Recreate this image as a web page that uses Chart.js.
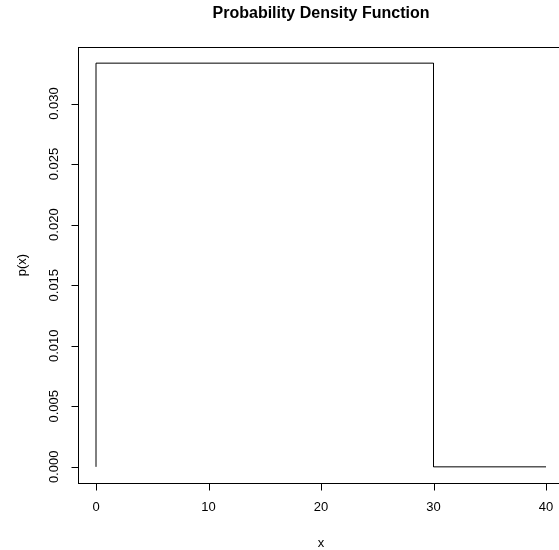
<!DOCTYPE html>
<html>
<head>
<meta charset="utf-8">
<script src="https://cdn.jsdelivr.net/npm/chart.js@4/dist/chart.umd.min.js"></script>
<style>
  html, body { margin: 0; padding: 0; background: #fff; overflow: hidden; }
  #wrap { width: 559px; height: 550px; overflow: hidden; }
  #wrap div { width: 570px; height: 550px; }
</style>
</head>
<body>
<div id="wrap"><div><canvas id="pdf"></canvas></div></div>
<script>
// step outline of the uniform density on [0, 30]
const xs = [0, 0, 30, 30, 40];
const ps = [0, 1 / 30, 1 / 30, 0, 0];
const xTicks = [0, 10, 20, 30, 40];
const yTicks = [0, 0.005, 0.010, 0.015, 0.020, 0.025, 0.030];
const yTickLabels = ['0.000', '0.005', '0.010', '0.015', '0.020', '0.025', '0.030'];

const font = '"Liberation Sans", Arial, Helvetica, sans-serif';

// R style frame, axes and labels
const rAxes = {
    id: 'rAxes',
    afterDraw(chart) {
        const { ctx, chartArea: a, scales: { x, y } } = chart;
        ctx.save();
        ctx.strokeStyle = '#000';
        ctx.fillStyle = '#000';
        ctx.lineWidth = 1;

        ctx.strokeRect(Math.round(a.left) + 0.5, Math.round(a.top) + 0.5,
            Math.round(a.right - a.left), Math.round(a.bottom - a.top));

        // x axis
        const xb = Math.round(a.bottom) + 0.5;
        ctx.beginPath();
        ctx.moveTo(x.getPixelForValue(xTicks[0]), xb);
        ctx.lineTo(x.getPixelForValue(xTicks[xTicks.length - 1]), xb);
        xTicks.forEach(v => {
            const px = Math.round(x.getPixelForValue(v)) + 0.5;
            ctx.moveTo(px, xb);
            ctx.lineTo(px, xb + 7);
        });
        ctx.stroke();
        ctx.font = '13px ' + font;
        ctx.textAlign = 'center';
        ctx.textBaseline = 'middle';
        xTicks.forEach(v => ctx.fillText(String(v), x.getPixelForValue(v), a.bottom + 24));

        // y axis
        const yl = Math.round(a.left) + 0.5;
        ctx.beginPath();
        ctx.moveTo(yl, y.getPixelForValue(yTicks[0]));
        ctx.lineTo(yl, y.getPixelForValue(yTicks[yTicks.length - 1]));
        yTicks.forEach(v => {
            const py = Math.round(y.getPixelForValue(v)) + 0.5;
            ctx.moveTo(yl, py);
            ctx.lineTo(yl - 7, py);
        });
        ctx.stroke();
        yTicks.forEach((v, i) => {
            ctx.save();
            ctx.translate(a.left - 24, y.getPixelForValue(v));
            ctx.rotate(-Math.PI / 2);
            ctx.fillText(yTickLabels[i], 0, 0);
            ctx.restore();
        });

        // titles
        const cx = (a.left + a.right) / 2;
        ctx.fillText('x', cx, a.bottom + 60);
        ctx.save();
        ctx.translate(22, (a.top + a.bottom) / 2);
        ctx.rotate(-Math.PI / 2);
        ctx.fillText('p(x)', 0, 0);
        ctx.restore();
        ctx.font = 'bold 16px ' + font;
        ctx.fillText('Probability Density Function', cx, 14);
        ctx.restore();
    }
};

new Chart(document.getElementById('pdf'), {
    type: 'scatter',
    data: {
        datasets: [{
            data: xs.map((v, i) => ({ x: v, y: ps[i] })),
            showLine: true,
            borderColor: '#000',
            borderWidth: 1,
            pointRadius: 0,
            fill: false,
        }],
    },
    options: {
        responsive: true,
        maintainAspectRatio: false,
        animation: false,
        layout: { padding: { left: 70, top: 47, right: 6, bottom: 59 } },
        plugins: { legend: { display: false }, tooltip: { enabled: false } },
        scales: {
            x: {
                type: 'linear', min: -1.6, max: 41.6,
                ticks: { display: false }, grid: { display: false }, border: { display: false },
            },
            y: {
                type: 'linear', min: -0.04 / 30, max: 1.04 / 30,
                ticks: { display: false }, grid: { display: false }, border: { display: false },
            },
        },
    },
    plugins: [rAxes],
});
</script>
</body>
</html>
